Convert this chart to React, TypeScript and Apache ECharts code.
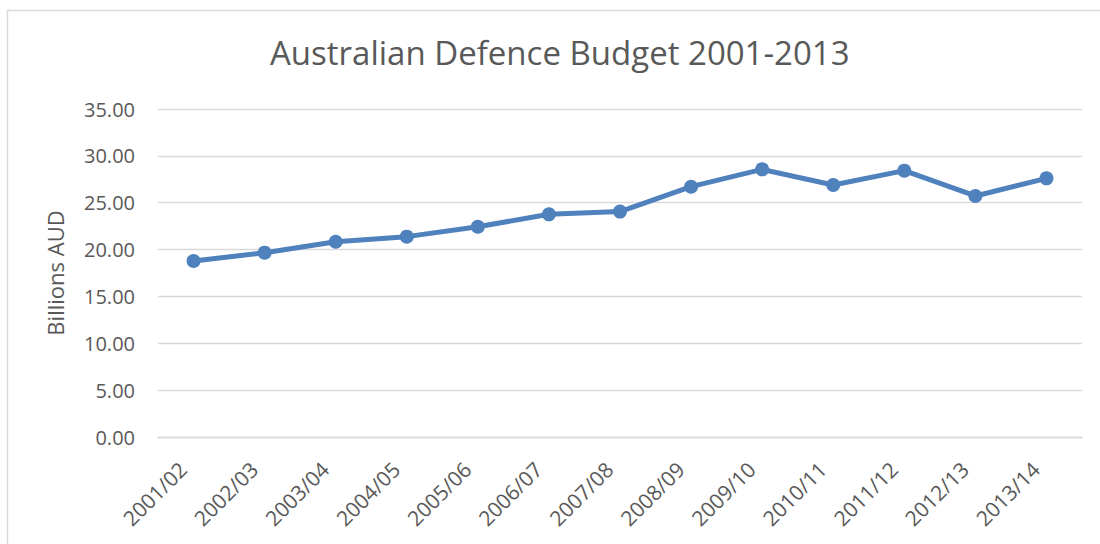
import React, { useEffect, useRef } from "react";
import * as echarts from "echarts";

const categories = [
  "2001/02", "2002/03", "2003/04", "2004/05", "2005/06", "2006/07", "2007/08",
  "2008/09", "2009/10", "2010/11", "2011/12", "2012/13", "2013/14",
];
const budget = [18.78, 19.67, 20.84, 21.38, 22.44, 23.76, 24.05, 26.71, 28.56, 26.89, 28.42, 25.72, 27.6];
const titleText = "Australian Defence Budget 2001-2013";
const yAxisName = "Billions AUD";

const FONT = "'Open Sans', 'Noto Sans', sans-serif";
const GREY = "#595959";
const GRID = "#d9d9d9";
const BLUE = "#4f81bd";

export default function App() {
  const ref = useRef<HTMLDivElement>(null);
  useEffect(() => {
    document.body.style.margin = "0";
    const chart = echarts.init(ref.current!, undefined, { renderer: "svg" });
    chart.setOption({
      animation: false,
      backgroundColor: "#ffffff",
      textStyle: { fontFamily: FONT },
      title: {
        text: titleText,
        left: 270,
        top: 36,
        padding: 0,
        textStyle: { fontFamily: FONT, fontSize: 33, fontWeight: "normal", color: GREY },
      },
      graphic: [
        {
          type: "rect",
          shape: { x: 7.5, y: 10.5, width: 1300, height: 800 },
          style: { fill: "none", stroke: GRID, lineWidth: 1.5 },
          silent: true,
          z: -10,
        },
      ],
      grid: { left: 158, right: 18, top: 109, bottom: 107, containLabel: false },
      xAxis: {
        type: "category",
        data: categories,
        boundaryGap: true,
        axisTick: { show: false },
        axisLine: { show: true, lineStyle: { color: GRID, width: 1.3 } },
        axisLabel: {
          rotate: 45,
          margin: 18,
          padding: [0, 15, 0, 0],
          fontSize: 21,
          color: GREY,
          fontFamily: FONT,
          interval: 0,
        },
      },
      yAxis: {
        type: "value",
        min: 0,
        max: 35,
        interval: 5,
        name: yAxisName,
        nameLocation: "middle",
        nameGap: 92,
        nameTextStyle: { fontSize: 22, color: GREY, fontFamily: FONT },
        axisLine: { show: false },
        axisTick: { show: false },
        axisLabel: {
          margin: 23,
          fontSize: 20,
          color: GREY,
          fontFamily: FONT,
          formatter: (v: number) => v.toFixed(2),
        },
        splitLine: { show: true, lineStyle: { color: GRID, width: 1.3 } },
      },
      series: [
        {
          type: "line",
          data: budget,
          symbol: "circle",
          symbolSize: 14,
          showSymbol: true,
          lineStyle: { color: BLUE, width: 5 },
          itemStyle: { color: BLUE },
        },
      ],
    });
    return () => chart.dispose();
  }, []);
  return <div ref={ref} style={{ width: 1100, height: 544 }} />;
}
